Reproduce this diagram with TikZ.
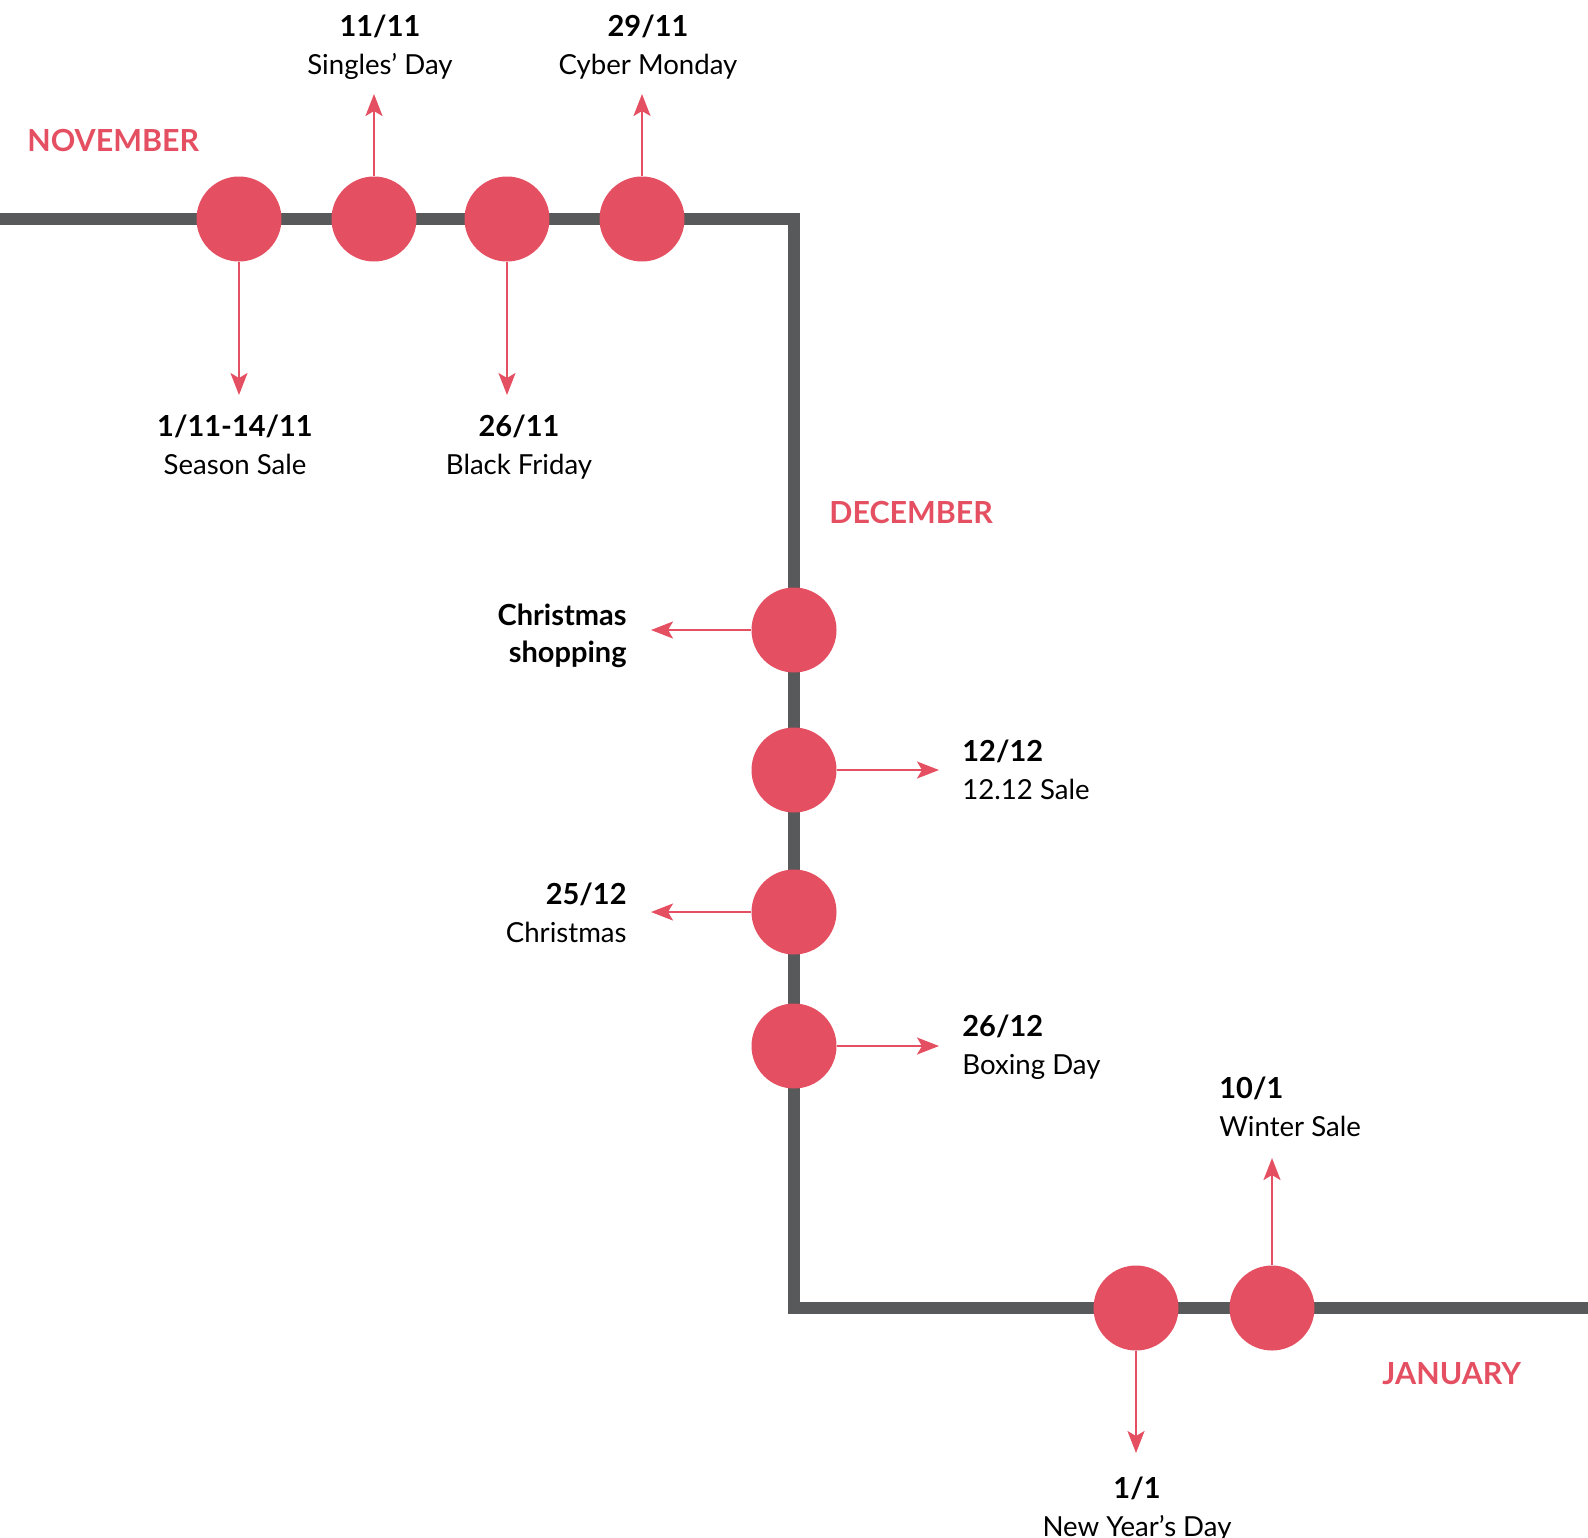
\documentclass[tikz,border=0pt]{standalone}
\usepackage{fontspec}
\setmainfont{Lato}
\usetikzlibrary{arrows.meta,positioning}

\definecolor{dotred}{HTML}{E45062}
\definecolor{linegray}{HTML}{58595B}

\tikzset{
  dot/.style={circle, fill=dotred, minimum size=42.5pt, inner sep=0pt},
  pointer/.style={draw=dotred, line width=1.1pt, -{Stealth[length=11pt,width=8.5pt,inset=2.5pt]}},
  datelbl/.style={font=\bfseries\fontsize{14.5}{18}\selectfont, inner sep=0pt},
  namelbl/.style={font=\fontsize{13.8}{18}\selectfont, inner sep=0pt},
  month/.style={font=\bfseries\fontsize{15.2}{18}\selectfont, text=dotred, anchor=base west, inner sep=0pt},
}

\begin{document}
\begin{tikzpicture}[x=0.5pt, y=-0.5pt]
  \useasboundingbox (0,0) rectangle (1588,1537);

  % timeline
  \draw[linegray, line width=6pt] (0,219) -- (794,219) -- (794,1308) -- (1588,1308);

  % dots
  \foreach \x/\n in {239/season, 374/singles, 507/black, 642/cyber}
    \node[dot] (\n) at (\x,219) {};
  \foreach \y/\n in {630/xshop, 770/twelve, 912/xmas, 1046/boxing}
    \node[dot] (\n) at (794,\y) {};
  \foreach \x/\n in {1136/newyear, 1272/winter}
    \node[dot] (\n) at (\x,1308) {};

  % arrow tips
  \foreach \n/\x/\y in {season/239/395, singles/374/94, black/507/395, cyber/642/94,
                        xshop/651/630, twelve/939/770, xmas/651/912, boxing/939/1046,
                        newyear/1136/1453, winter/1272/1158}
    \coordinate (\n-tip) at (\x,\y);

  % arrows
  \foreach \n/\a in {season/south, singles/north, black/south, cyber/north,
                     xshop/west, twelve/east, xmas/west, boxing/east,
                     newyear/south, winter/north}
    \draw[pointer] (\n.\a) -- (\n-tip);

  % months
  \node[month] (nov) at (27,151) {NOVEMBER};
  \node[month] (dec) at (829,523) {DECEMBER};
  \node[month] (jan) at (1382,1384) {JANUARY};

  % centred labels
  \foreach \x/\y/\d/\t/\n in {380/36/{11/11}/{Singles’ Day}/singles,
                              648/36/{29/11}/{Cyber Monday}/cyber,
                              235/436/{1/11-14/11}/{Season Sale}/season,
                              519/436/{26/11}/{Black Friday}/black,
                              1137/1498/{1/1}/{New Year's Day}/newyear} {
    \node[datelbl, anchor=base] (\n-date) at (\x,\y) {\d};
    \node[namelbl, anchor=base] (\n-name) at (\x,\y+38) {\t};
  }

  % left labels
  \node[datelbl, anchor=base east] (xshop-date) at (627,625) {Christmas};
  \node[datelbl, anchor=base east] (xshop-name) at (627,662) {shopping};
  \node[datelbl, anchor=base east] (xmas-date) at (627,904) {25/12};
  \node[namelbl, anchor=base east] (xmas-name) at (627,942) {Christmas};

  % right labels
  \foreach \x/\y/\d/\t/\n in {962/761/{12/12}/{12.12 Sale}/twelve,
                              962/1036/{26/12}/{Boxing Day}/boxing,
                              1219/1098/{10/1}/{Winter Sale}/winter} {
    \node[datelbl, anchor=base west] (\n-date) at (\x,\y) {\d};
    \node[namelbl, anchor=base west] (\n-name) at (\x,\y+38) {\t};
  }
\end{tikzpicture}
\end{document}
